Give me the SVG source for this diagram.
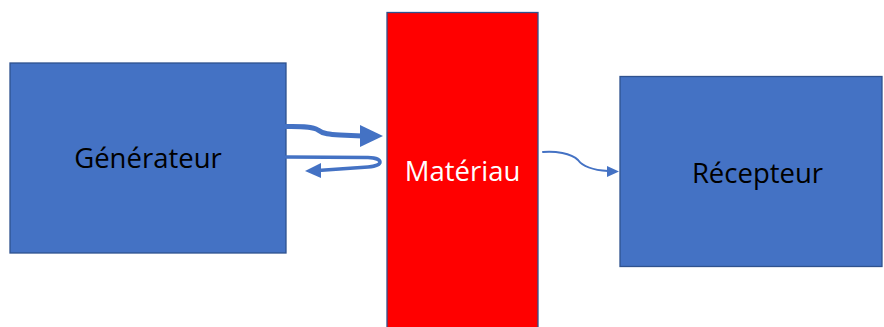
<svg xmlns="http://www.w3.org/2000/svg" width="884" height="327" viewBox="0 0 884 327">
<style>
.box{fill:#4472C4;stroke:#2F528F;stroke-width:1.3}
.mat{fill:#FF0000;stroke:#2F528F;stroke-width:1.3}
.lbl{font-family:"Open Sans","Noto Sans",sans-serif;font-size:27.5px;text-anchor:middle}
.arr{fill:none;stroke:#4472C4;stroke-linecap:round}
.head{fill:#4472C4}
</style>
<rect width="884" height="327" fill="#FFFFFF"/>
<g id="generateur">
<rect class="box" x="10" y="63" width="276" height="190"/>
<text class="lbl" x="148" y="168" fill="#000000">Générateur</text>
</g>
<g id="materiau">
<rect class="mat" x="387" y="12.5" width="151" height="320"/>
<text class="lbl" x="462.5" y="181" fill="#FFFFFF">Matériau</text>
</g>
<g id="recepteur">
<rect class="box" x="620" y="76.5" width="262" height="190"/>
<text class="lbl" x="757.5" y="183" fill="#000000">Récepteur</text>
</g>
<g id="connectors">
<path class="arr" stroke-width="5" d="M286,126.5 C300,126.5 312,126 318,130 C323,134 330,134.5 340,135 L362,136"/>
<polygon class="head" points="360,125 383,136 360,147"/>
<path class="arr" stroke-width="3.5" d="M286,157 L368,157.5 C384,158 384,166 368,167 L318,170.5"/>
<polygon class="head" points="321,163 305,171 321,178"/>
<path class="arr" stroke-width="2" d="M543,152 C555,151 571,153 578,160 C583,167 592,170 608,171"/>
<polygon class="head" points="607,166 619,171.5 607,177"/>
</g>
</svg>
